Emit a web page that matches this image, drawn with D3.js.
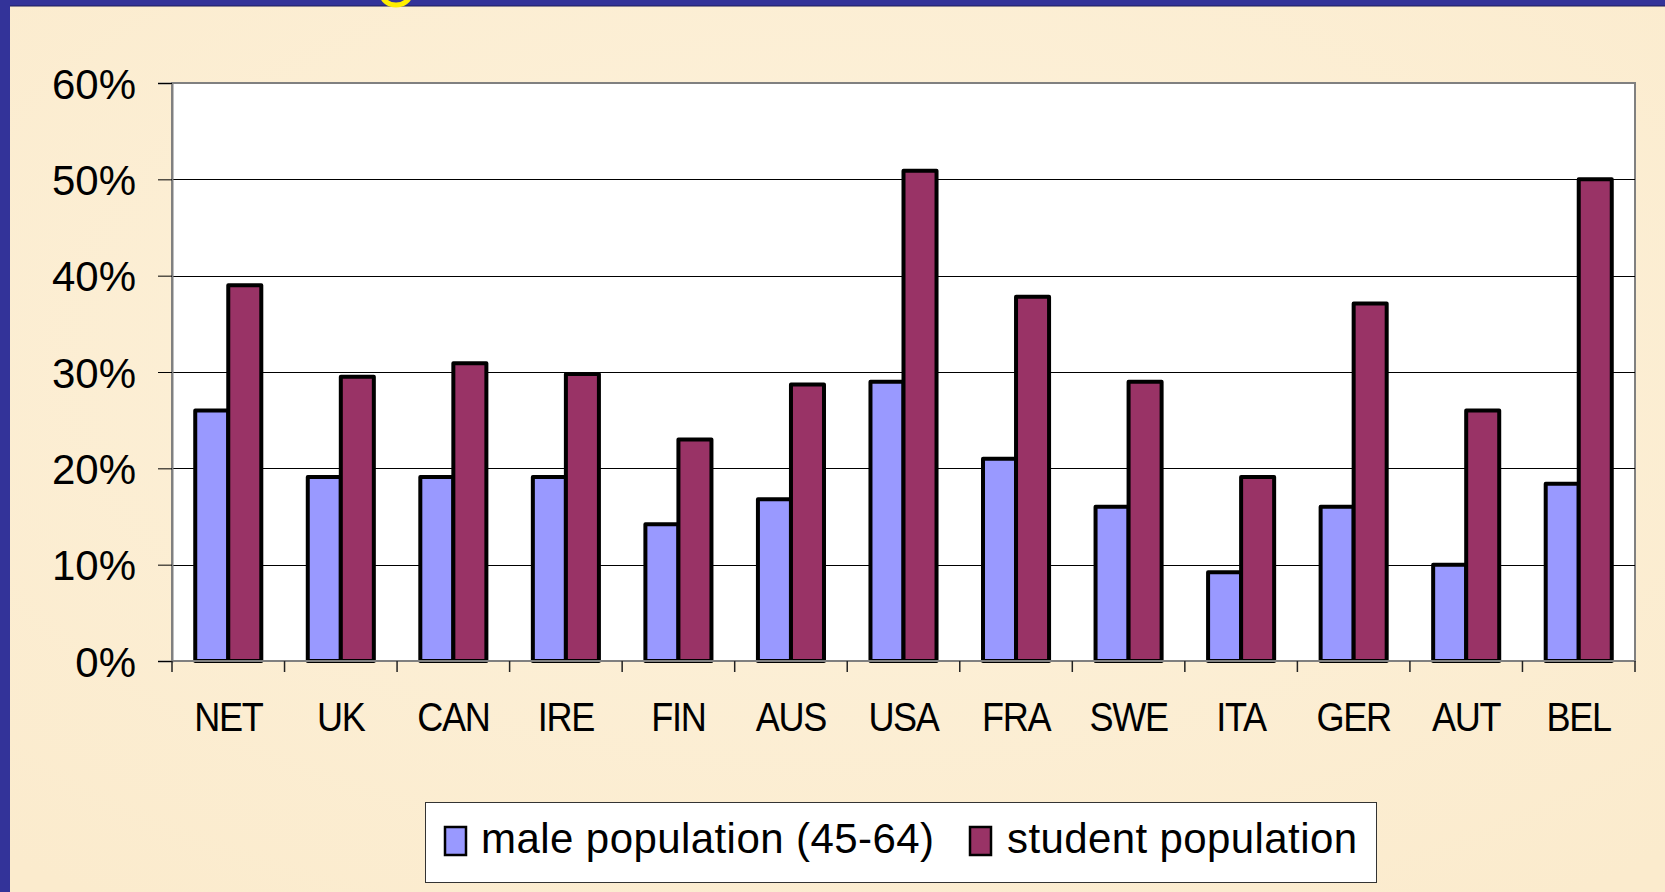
<!DOCTYPE html>
<html>
<head>
<meta charset="utf-8">
<script src="https://cdn.jsdelivr.net/npm/d3@7"></script>
<style>
  html, body { margin: 0; padding: 0; overflow: hidden; }
  body { width: 1665px; height: 892px; background: #fcefd4; }
  text { font-family: "Liberation Sans", Arial, sans-serif; fill: #000; }
</style>
</head>
<body>
<div id="chart"></div>
<script>
// chart data
const countries = ["NET", "UK", "CAN", "IRE", "FIN", "AUS", "USA", "FRA", "SWE", "ITA", "GER", "AUT", "BEL"];
const seriesNames = ["male population (45-64)", "student population"];
const malePop = [0.26, 0.191, 0.191, 0.191, 0.142, 0.168, 0.29, 0.21, 0.16, 0.092, 0.16, 0.10, 0.184];
const studentPop = [0.39, 0.295, 0.309, 0.298, 0.23, 0.287, 0.509, 0.378, 0.29, 0.191, 0.371, 0.26, 0.50];
const yTicks = [0, 0.1, 0.2, 0.3, 0.4, 0.5, 0.6];
const colors = ["#9999ff", "#993366"];

const width = 1665, height = 892;
const plot = { left: 172, right: 1635, top: 83, bottom: 661 };

const svg = d3.select("#chart").append("svg")
  .attr("width", width)
  .attr("height", height);

// parchment background with a soft gradient
const defs = svg.append("defs");
const bg = defs.append("radialGradient").attr("id", "bg").attr("cx", "50%").attr("cy", "40%").attr("r", "75%");
bg.append("stop").attr("offset", "0%").attr("stop-color", "#fdf2dc");
bg.append("stop").attr("offset", "100%").attr("stop-color", "#fbebcd");
svg.append("rect").attr("width", width).attr("height", height).attr("fill", "url(#bg)");

// slide frame (top and left strips)
svg.append("rect").attr("x", 0).attr("y", 0).attr("width", width).attr("height", 6).attr("fill", "#333399");
svg.append("rect").attr("x", 0).attr("y", 0).attr("width", 10).attr("height", height).attr("fill", "#333399");
svg.append("line").attr("x1", 10).attr("x2", width).attr("y1", 6).attr("y2", 6).attr("stroke", "#1c1c5a").attr("stroke-width", 1);
svg.append("ellipse").attr("cx", 396).attr("cy", -6).attr("rx", 14).attr("ry", 11)
  .attr("fill", "none").attr("stroke", "#ffee00").attr("stroke-width", 5);

// scales
const x0 = d3.scaleBand()
  .domain(countries)
  .range([plot.left, plot.right])
  .paddingInner(0.413)
  .paddingOuter(0.2065);

const x1 = d3.scaleBand()
  .domain(d3.range(seriesNames.length))
  .range([0, x0.bandwidth()]);

const y = d3.scaleLinear()
  .domain([0, 0.6])
  .range([plot.bottom, plot.top]);

// plot area
svg.append("rect")
  .attr("x", plot.left).attr("y", plot.top)
  .attr("width", plot.right - plot.left)
  .attr("height", plot.bottom - plot.top)
  .attr("fill", "#fff")
  .attr("stroke", "#808080")
  .attr("stroke-width", 2);

// gridlines
svg.append("g")
  .selectAll("line")
  .data(yTicks.filter(t => t > 0 && t < 0.6))
  .join("line")
  .attr("x1", plot.left).attr("x2", plot.right)
  .attr("y1", d => Math.round(y(d)) + 0.5).attr("y2", d => Math.round(y(d)) + 0.5)
  .attr("stroke", "#000")
  .attr("stroke-width", 1);

// bars
const rows = countries.map((c, i) => ({ country: c, values: [malePop[i], studentPop[i]] }));

svg.append("g")
  .selectAll("g")
  .data(rows)
  .join("g")
  .attr("transform", d => `translate(${x0(d.country)},0)`)
  .selectAll("rect")
  .data(d => d.values.map((v, k) => ({ k, v })))
  .join("rect")
  .attr("x", d => x1(d.k))
  .attr("y", d => y(d.v))
  .attr("width", x1.bandwidth())
  .attr("height", d => y(0) - y(d.v))
  .attr("fill", d => colors[d.k])
  .attr("stroke", "#000")
  .attr("stroke-width", 4)
  .attr("stroke-linejoin", "round");

// y axis
const yAxis = svg.append("g")
  .attr("transform", `translate(${plot.left},0)`)
  .call(d3.axisLeft(y).tickValues(yTicks).tickFormat(d3.format(".0%")).tickSize(14).tickPadding(22));
yAxis.select(".domain").attr("stroke", "#808080").attr("stroke-width", 2);
yAxis.selectAll(".tick line").attr("stroke", "#000");
yAxis.selectAll(".tick text")
  .attr("font-size", 42)
  .attr("font-family", "Liberation Sans, Arial, sans-serif")
  .attr("fill", "#000")
  .attr("dy", "0.36em");

// x axis: ticks at category boundaries
const boundaries = d3.range(countries.length + 1).map(i => plot.left + i * (plot.right - plot.left) / countries.length);
svg.append("line")
  .attr("x1", plot.left).attr("x2", plot.right)
  .attr("y1", plot.bottom).attr("y2", plot.bottom)
  .attr("stroke", "#808080").attr("stroke-width", 2);
svg.append("g")
  .selectAll("line")
  .data(boundaries)
  .join("line")
  .attr("x1", d => d).attr("x2", d => d)
  .attr("y1", plot.bottom).attr("y2", plot.bottom + 11)
  .attr("stroke", "#222").attr("stroke-width", 1.5);

svg.append("g")
  .selectAll("text")
  .data(countries)
  .join("text")
  .attr("transform", d => `translate(${x0(d) + x0.bandwidth() / 2},731) scale(0.88,1)`)
  .attr("text-anchor", "middle")
  .attr("font-size", 41)
  .attr("letter-spacing", "-1.5px")
  .text(d => d);

// legend
const legend = svg.append("g");
legend.append("rect")
  .attr("x", 425.5).attr("y", 802.5)
  .attr("width", 951).attr("height", 80)
  .attr("fill", "#fff")
  .attr("stroke", "#333")
  .attr("stroke-width", 1);

const legendItems = [
  { name: seriesNames[0], color: colors[0], mx: 445, tx: 481, w: 453 },
  { name: seriesNames[1], color: colors[1], mx: 970, tx: 1007, w: 350 }
];
legendItems.forEach(item => {
  legend.append("rect")
    .attr("x", item.mx).attr("y", 827)
    .attr("width", 21).attr("height", 28)
    .attr("fill", item.color)
    .attr("stroke", "#000").attr("stroke-width", 2.5);
  legend.append("text")
    .attr("x", item.tx).attr("y", 853)
    .attr("font-size", 42)
    .attr("textLength", item.w)
    .attr("lengthAdjust", "spacing")
    .text(item.name);
});
</script>
</body>
</html>
